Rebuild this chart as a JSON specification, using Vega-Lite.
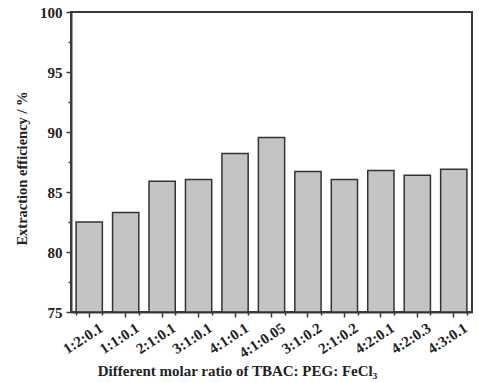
{
  "$schema": "https://vega.github.io/schema/vega-lite/v6.json",
  "width": 401,
  "height": 300,
  "autosize": "none",
  "padding": {"left": 71, "top": 12, "right": 7, "bottom": 71},
  "background": "white",
  "config": {
    "view": {"stroke": "#3a3a3a", "strokeWidth": 2},
    "font": "Liberation Serif",
    "axis": {
      "domainColor": "#3a3a3a",
      "domainWidth": 2,
      "tickColor": "#3a3a3a",
      "tickWidth": 1.5,
      "labelFont": "Liberation Serif",
      "labelFontWeight": "bold",
      "labelColor": "#222",
      "titleFont": "Liberation Serif",
      "titleFontWeight": "bold",
      "titleColor": "#222",
      "grid": false
    }
  },
  "data": {
    "values": [
      {"ratio": "1:2:0.1", "eff": 82.5},
      {"ratio": "1:1:0.1", "eff": 83.3},
      {"ratio": "2:1:0.1", "eff": 85.9},
      {"ratio": "3:1:0.1", "eff": 86.05},
      {"ratio": "4:1:0.1", "eff": 88.2},
      {"ratio": "4:1:0.05", "eff": 89.55},
      {"ratio": "3:1:0.2", "eff": 86.7},
      {"ratio": "2:1:0.2", "eff": 86.05},
      {"ratio": "4:2:0.1", "eff": 86.8},
      {"ratio": "4:2:0.3", "eff": 86.4},
      {"ratio": "4:3:0.1", "eff": 86.9}
    ]
  },
  "layer": [
    {
      "mark": {"type": "bar", "fill": "#c4c4c4", "stroke": "#333", "strokeWidth": 1.5},
      "encoding": {
        "x": {
          "field": "ratio", "type": "nominal", "sort": null,
          "scale": {"paddingInner": 0.28, "paddingOuter": 0.14},
          "axis": {
            "title": "Different molar ratio of TBAC: PEG: FeCl₃",
            "titleFontSize": 15,
            "titlePadding": 3,
            "titleX": 166,
            "titleAlign": "center",
            "labelFontSize": 15,
            "labelAngle": -33,
            "labelAlign": "right",
            "labelBaseline": "middle",
            "labelPadding": 9,
            "labelOffset": 12,
            "tickSize": 5
          }
        },
        "y": {
          "field": "eff", "type": "quantitative",
          "scale": {"domain": [75, 100], "zero": false, "nice": false},
          "axis": {
            "title": "Extraction efficiency / %",
            "titleFontSize": 14.5,
            "titlePadding": 10,
            "titleY": 156,
            "labelFontSize": 15,
            "labelPadding": 4,
            "values": [75, 80, 85, 90, 95, 100],
            "tickSize": 5
          }
        },
        "y2": {"datum": 75}
      }
    },
    {
      "mark": {"type": "bar", "opacity": 0},
      "encoding": {
        "x": {
          "field": "ratio", "type": "nominal", "sort": null,
          "axis": {
            "orient": "bottom", "title": null, "labels": false, "domain": false,
            "tickBand": "extent", "tickSize": 3
          }
        },
        "y": {
          "field": "eff", "type": "quantitative",
          "axis": {
            "orient": "left", "title": null, "labels": false, "domain": false,
            "values": [77.5, 82.5, 87.5, 92.5, 97.5], "tickSize": 3
          }
        },
        "y2": {"datum": 75}
      }
    }
  ],
  "resolve": {"axis": {"x": "independent", "y": "independent"}}
}
